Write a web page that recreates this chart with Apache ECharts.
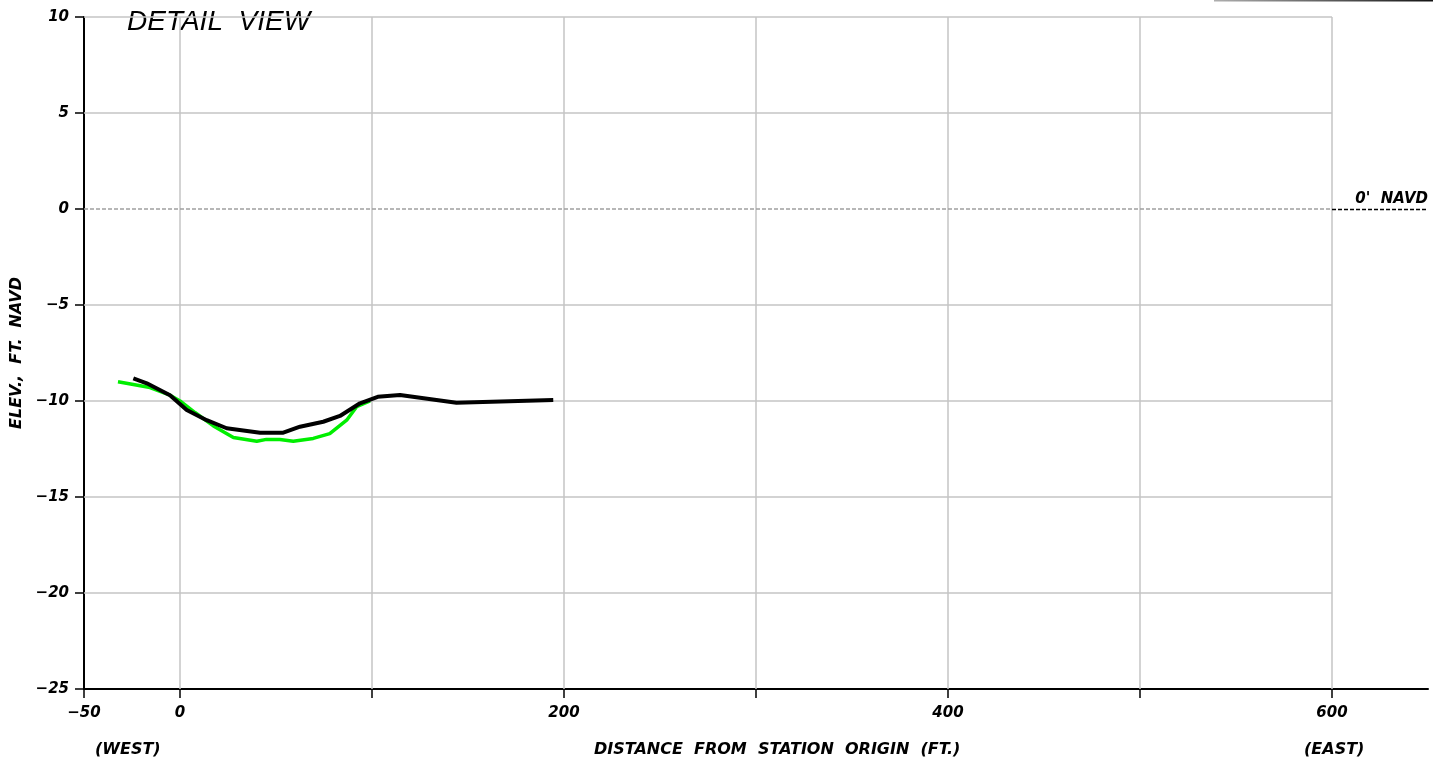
<!DOCTYPE html>
<html>
<head>
<meta charset="utf-8">
<title>Detail View</title>
<script src="https://cdn.jsdelivr.net/npm/echarts@6/dist/echarts.min.js"></script>
<style>
  html, body { margin: 0; padding: 0; background: #fff; }
  #chart { width: 1433px; height: 767px; }
</style>
</head>
<body>
<div id="chart"></div>
<script>
// Cross-section survey: distance from station origin (ft) vs elevation (ft NAVD)
const preSurvey = [
  [-32.3, -9.0], [-15.6, -9.3], [-5.2, -9.7], [0, -10.0], [7.8, -10.6],
  [17.4, -11.3], [27.8, -11.9], [40.0, -12.1], [45.0, -12.0], [52.0, -12.0],
  [59.0, -12.1], [69.4, -11.95], [78.0, -11.7], [86.8, -11.0], [92.0, -10.3],
  [99.0, -10.0]
];
const postSurvey = [
  [-24.3, -8.82], [-17.3, -9.08], [-5.2, -9.7], [3.5, -10.47], [13.9, -11.0],
  [24.3, -11.42], [41.7, -11.65], [53.8, -11.65], [62.5, -11.34], [74.6, -11.08],
  [83.3, -10.78], [93.75, -10.12], [103.0, -9.78], [114.6, -9.69], [144.0, -10.09],
  [194.4, -9.95]
];

// Axis ranges and tick positions
const xMin = -50, xMax = 650, gridXMax = 600;
const yMin = -25, yMax = 10, yStep = 5;
const xLabelValues = [-50, 0, 200, 400, 600];
const xTickValues = [-50, 0, 100, 200, 300, 400, 500, 600];
const xGridValues = [0, 100, 200, 300, 400, 500, 600];
const yGridValues = [-20, -15, -10, -5, 5, 10];
const datumElevation = 0;

const FONT = '"DejaVu Sans", "Liberation Sans", sans-serif';

const gridLines = [];
xGridValues.forEach(x => gridLines.push([{ coord: [x, yMin] }, { coord: [x, yMax] }]));
yGridValues.forEach(y => gridLines.push([{ coord: [xMin, y] }, { coord: [gridXMax, y] }]));

const minus = v => String(v).replace('-', '\u2212');

const chart = echarts.init(document.getElementById('chart'), null, { renderer: 'canvas' });

chart.setOption({
  backgroundColor: '#ffffff',
  animation: false,
  grid: { left: 84, right: 5, top: 17, bottom: 78, containLabel: false },
  xAxis: {
    type: 'value',
    min: xMin,
    max: xMax,
    splitLine: { show: false },
    axisLine: { show: true, onZero: false, lineStyle: { color: '#000', width: 2 } },
    axisTick: { show: true, inside: false, length: 9, customValues: xTickValues, lineStyle: { color: '#000', width: 1.5 } },
    axisLabel: {
      customValues: xLabelValues,
      margin: 17,
      formatter: minus,
      fontFamily: FONT, fontSize: 15, fontStyle: 'italic', fontWeight: 'bold', color: '#000'
    }
  },
  yAxis: {
    type: 'value',
    min: yMin,
    max: yMax,
    interval: yStep,
    splitLine: { show: false },
    axisLine: { show: true, onZero: false, lineStyle: { color: '#000', width: 2 } },
    axisTick: { show: true, inside: false, length: 9, lineStyle: { color: '#000', width: 1.5 } },
    axisLabel: {
      margin: 15,
      formatter: minus,
      fontFamily: FONT, fontSize: 15, fontStyle: 'italic', fontWeight: 'bold', color: '#000'
    },
    name: 'ELEV.,  FT.  NAVD',
    nameLocation: 'middle',
    nameGap: 57,
    nameRotate: 90,
    nameTextStyle: { fontFamily: FONT, fontSize: 16, fontStyle: 'italic', fontWeight: 'bold', color: '#000' }
  },
  series: [
    {
      name: 'grid',
      type: 'line',
      data: [],
      silent: true,
      z: 1,
      markLine: {
        silent: true,
        z: 1,
        symbol: ['none', 'none'],
        label: { show: false },
        lineStyle: { color: '#c4c4c4', width: 1.5, type: 'solid' },
        data: gridLines
      }
    },
    {
      name: 'datum',
      type: 'line',
      data: [],
      silent: true,
      z: 2,
      markLine: {
        silent: true,
        z: 2,
        symbol: ['none', 'none'],
        data: [
          [
            { coord: [xMin, datumElevation], lineStyle: { color: '#a0a0a0', width: 1.5, type: [4, 2] }, label: { show: false } },
            { coord: [gridXMax, datumElevation] }
          ],
          [
            {
              coord: [gridXMax, datumElevation],
              lineStyle: { color: '#000', width: 1.4, type: [4, 2] },
              label: {
                show: true,
                position: 'insideEndTop',
                distance: [0, 2],
                formatter: "0'  NAVD",
                fontFamily: FONT, fontSize: 15, fontStyle: 'italic', fontWeight: 'bold', color: '#000'
              }
            },
            { coord: [xMax, datumElevation] }
          ]
        ]
      }
    },
    {
      name: 'Pre',
      type: 'line',
      data: preSurvey,
      showSymbol: false,
      z: 3,
      lineStyle: { color: '#00ee00', width: 3.5 }
    },
    {
      name: 'Post',
      type: 'line',
      data: postSurvey,
      showSymbol: false,
      z: 4,
      lineStyle: { color: '#000000', width: 4 }
    }
  ],
  graphic: [
    {
      type: 'text',
      left: 127,
      top: 8,
      style: {
        text: 'DETAIL  VIEW',
        fontFamily: '"Liberation Sans", sans-serif',
        fontSize: 28,
        fontStyle: 'italic',
        fill: '#000'
      }
    },
    {
      type: 'text',
      left: 95,
      top: 742,
      style: { text: '(WEST)', fontFamily: FONT, fontSize: 16, fontStyle: 'italic', fontWeight: 'bold', fill: '#000' }
    },
    {
      type: 'text',
      left: 594,
      top: 742,
      style: { text: 'DISTANCE  FROM  STATION  ORIGIN  (FT.)', fontFamily: FONT, fontSize: 16, fontStyle: 'italic', fontWeight: 'bold', fill: '#000' }
    },
    {
      type: 'text',
      left: 1304,
      top: 742,
      style: { text: '(EAST)', fontFamily: FONT, fontSize: 16, fontStyle: 'italic', fontWeight: 'bold', fill: '#000' }
    },
    {
      type: 'line',
      shape: { x1: 1214, y1: 0.5, x2: 1433, y2: 0.5 },
      style: {
        lineWidth: 2,
        stroke: new echarts.graphic.LinearGradient(0, 0, 1, 0, [
          { offset: 0, color: '#b0b0b0' },
          { offset: 1, color: '#111111' }
        ])
      }
    }
  ]
});
</script>
</body>
</html>
